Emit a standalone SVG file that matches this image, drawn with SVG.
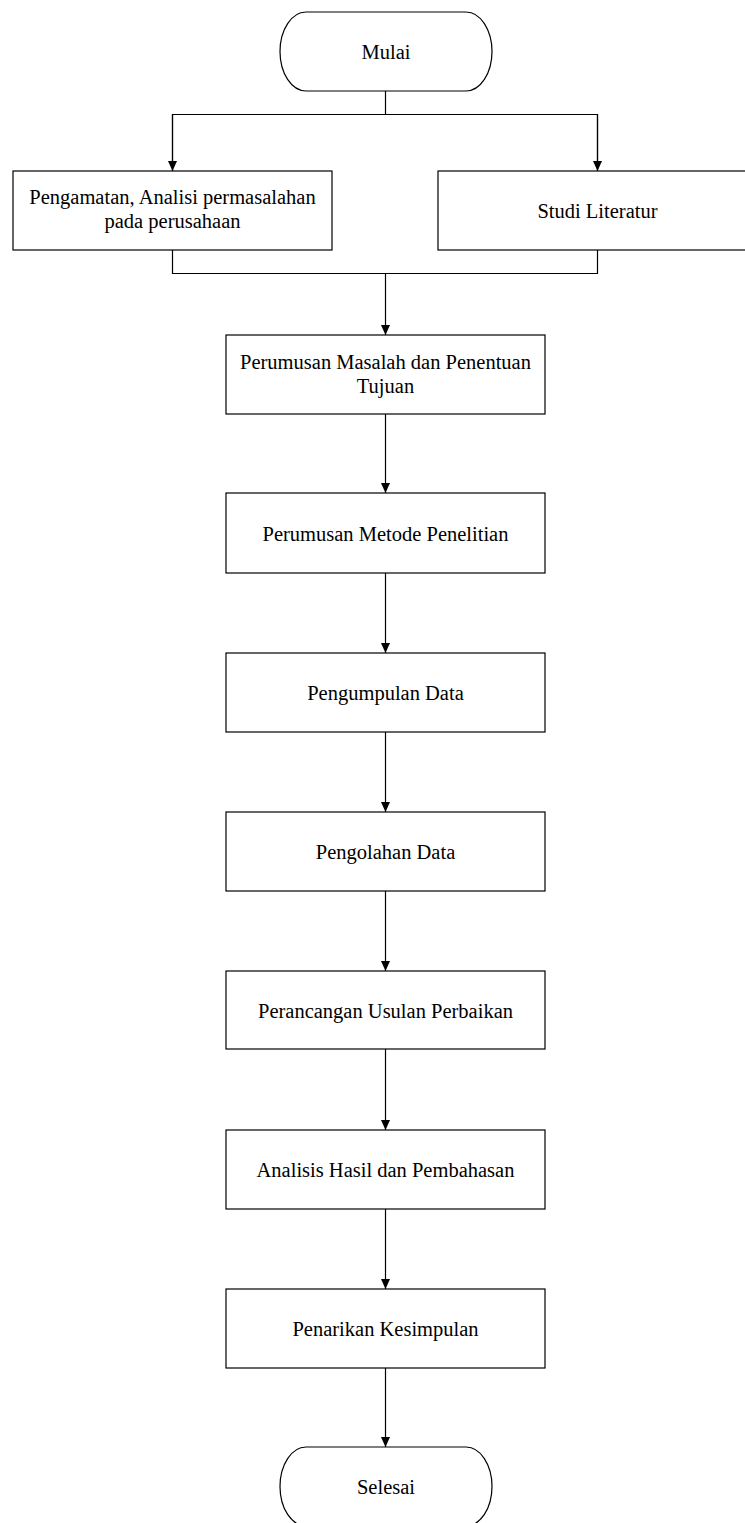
<svg xmlns="http://www.w3.org/2000/svg" width="745" height="1523" viewBox="0 0 745 1523">
<style>
.box{fill:#fff;stroke:#000;stroke-width:1.2}
.t{font-family:"Liberation Serif","Times New Roman",serif;font-size:20.5px;fill:#000;text-anchor:middle}
.c{fill:none;stroke:#000;stroke-width:1.2}
</style>
<defs>
<marker id="ah" markerWidth="12" markerHeight="12" refX="10" refY="4.5" orient="auto" markerUnits="userSpaceOnUse">
<path d="M0,0 L10,4.5 L0,9 Z" fill="#000"/>
</marker>
</defs>
<g id="connectors">
<path class="c" d="M385.5,91 V114.5"/>
<path class="c" d="M172.5,171 V114.5 H597.5 V171"/>
<path class="c" d="M172.5,114.5 V171" marker-end="url(#ah)"/>
<path class="c" d="M597.5,114.5 V171" marker-end="url(#ah)"/>
<path class="c" d="M172.5,250 V273.5 H597.5 V250"/>
<path class="c" d="M385.5,273.5 V335" marker-end="url(#ah)"/>
<path class="c" d="M385.5,414 V493" marker-end="url(#ah)"/>
<path class="c" d="M385.5,573 V653" marker-end="url(#ah)"/>
<path class="c" d="M385.5,732 V812" marker-end="url(#ah)"/>
<path class="c" d="M385.5,891 V971" marker-end="url(#ah)"/>
<path class="c" d="M385.5,1049 V1130" marker-end="url(#ah)"/>
<path class="c" d="M385.5,1209 V1289" marker-end="url(#ah)"/>
<path class="c" d="M385.5,1368 V1447" marker-end="url(#ah)"/>
</g>
<g id="mulai">
<rect class="box" x="280" y="12" width="212" height="79" rx="26" ry="39.5"/>
<text class="t" x="386" y="59">Mulai</text>
</g>
<g id="pengamatan">
<rect class="box" x="13" y="171" width="319" height="79"/>
<text class="t" x="172.5" y="204">Pengamatan, Analisi permasalahan</text>
<text class="t" x="172.5" y="228">pada perusahaan</text>
</g>
<g id="studi">
<rect class="box" x="438" y="171" width="319" height="79"/>
<text class="t" x="597.5" y="218">Studi Literatur</text>
</g>
<g id="perumusan-masalah">
<rect class="box" x="226" y="335" width="319" height="79"/>
<text class="t" x="385.5" y="369">Perumusan Masalah dan Penentuan</text>
<text class="t" x="385.5" y="393">Tujuan</text>
</g>
<g id="perumusan-metode">
<rect class="box" x="226" y="493" width="319" height="80"/>
<text class="t" x="385.5" y="541">Perumusan Metode Penelitian</text>
</g>
<g id="pengumpulan">
<rect class="box" x="226" y="653" width="319" height="79"/>
<text class="t" x="385.5" y="700">Pengumpulan Data</text>
</g>
<g id="pengolahan">
<rect class="box" x="226" y="812" width="319" height="79"/>
<text class="t" x="385.5" y="859">Pengolahan Data</text>
</g>
<g id="perancangan">
<rect class="box" x="226" y="971" width="319" height="78"/>
<text class="t" x="385.5" y="1018">Perancangan Usulan Perbaikan</text>
</g>
<g id="analisis">
<rect class="box" x="226" y="1130" width="319" height="79"/>
<text class="t" x="385.5" y="1177">Analisis Hasil dan Pembahasan</text>
</g>
<g id="penarikan">
<rect class="box" x="226" y="1289" width="319" height="79"/>
<text class="t" x="385.5" y="1336">Penarikan Kesimpulan</text>
</g>
<g id="selesai">
<rect class="box" x="280" y="1447" width="212" height="79" rx="26" ry="39.5"/>
<text class="t" x="386" y="1494">Selesai</text>
</g>
</svg>
